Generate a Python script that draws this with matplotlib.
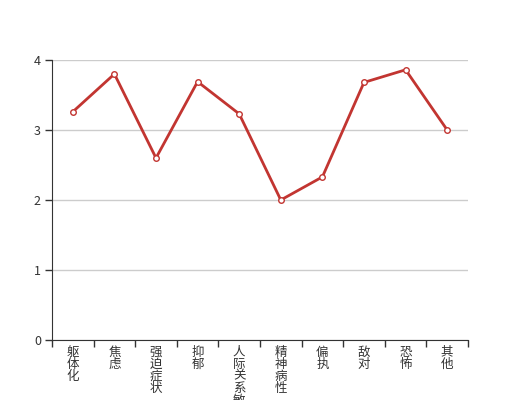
import matplotlib
matplotlib.use("Agg")
from matplotlib import pyplot as plt
import numpy as np

plt.rcParams['font.family'] = ['Noto Sans CJK SC', 'DejaVu Sans']

categories = ["躯体化", "焦虑", "强迫症状", "抑郁", "人际关系敏感", "精神病性", "偏执", "敌对", "恐怖", "其他"]
values = [3.26, 3.80, 2.60, 3.69, 3.23, 2.00, 2.33, 3.68, 3.86, 3.00]
yticks = [0, 1, 2, 3, 4]

fig = plt.figure(figsize=(5.2, 4.0), dpi=100)
ax = fig.add_axes([0.1, 0.15, 0.8, 0.7])

x = np.arange(len(categories))
ax.plot(x, values, color="#c23531", lw=2, marker="o", ms=4,
        markerfacecolor="white", markeredgecolor="#c23531", markeredgewidth=1, zorder=3)

ax.set_xlim(-0.5, len(categories) - 0.5)
ax.set_ylim(0, 4)
ax.set_yticks(yticks)
ax.yaxis.grid(True, color="#cccccc", lw=1)
ax.set_axisbelow(True)

ax.set_xticks(x)
ax.set_xticklabels(["\n".join(c) for c in categories], va="top", linespacing=0.9,
                   fontsize=9, color="#333333")
ax.tick_params(axis="x", which="major", length=0, pad=4)
ax.set_xticks(np.arange(len(categories) + 1) - 0.5, minor=True)
ax.tick_params(axis="x", which="minor", length=5, width=1, color="#333333")
ax.tick_params(axis="y", length=5, width=1, color="#333333", labelsize=9, labelcolor="#333333", pad=3)

for s in ["top", "right"]:
    ax.spines[s].set_visible(False)
ax.spines["left"].set_color("#333333")
ax.spines["bottom"].set_color("#333333")

fig.savefig("out.png", dpi=100)
